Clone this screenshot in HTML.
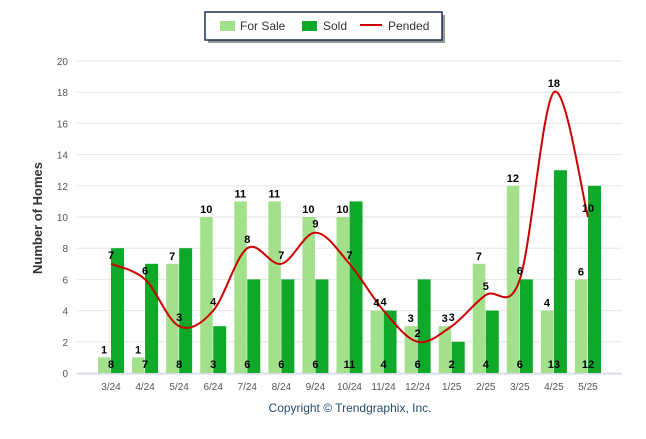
<!DOCTYPE html>
<html><head><meta charset="utf-8"><style>
body{margin:0;background:#fff;font-family:"Liberation Sans",Arial,sans-serif}
svg text{font-family:"Liberation Sans",Arial,sans-serif}
</style></head><body>
<svg id="chart" width="646" height="434" xmlns="http://www.w3.org/2000/svg">
<rect x="0" y="0" width="646" height="434" fill="#fff"/>
<g id="grid"></g><g id="bars"></g><g id="line"></g><g id="labels"></g>
<text transform="translate(42,218) rotate(-90)" text-anchor="middle" font-size="13" font-weight="bold" fill="#333">Number of Homes</text>
<text x="350" y="412" text-anchor="middle" font-size="12" fill="#274b6d">Copyright © Trendgraphix, Inc.</text>
<g>
<rect x="208" y="15" width="237" height="28" fill="#999"/>
<rect x="205" y="12" width="237" height="28" fill="#fff" stroke="#1d2d5a" stroke-width="1.5"/>
<rect x="220" y="21" width="15" height="10" fill="#a3e08b"/>
<text x="240" y="30" font-size="12" fill="#333">For Sale</text>
<rect x="302" y="21" width="15" height="10" fill="#0ea928"/>
<text x="323" y="30" font-size="12" fill="#333">Sold</text>
<line x1="360" y1="25" x2="382" y2="25" stroke="#cc0000" stroke-width="2"/>
<text x="388" y="30" font-size="12" fill="#333">Pended</text>
</g>
</svg>
<script>
const categories=["3/24","4/24","5/24","6/24","7/24","8/24","9/24","10/24","11/24","12/24","1/25","2/25","3/25","4/25","5/25"];
const forSale=[1,1,7,10,11,11,10,10,4,3,3,7,12,4,6];
const sold=[8,7,8,3,6,6,6,11,4,6,2,4,6,13,12];
const pended=[7,6,3,4,8,7,9,7,4,2,3,5,6,18,10];
const yTicks=[0,2,4,6,8,10,12,14,16,18,20];
const NS="http://www.w3.org/2000/svg";
const x0=94,step=34.07,plotL=77,plotR=622;
const xc=i=>x0+17+i*step;
const y=v=>373-v*15.6;
function mk(t,a,p){const e=document.createElementNS(NS,t);for(const k in a)e.setAttribute(k,a[k]);p.appendChild(e);return e;}
const grid=document.getElementById('grid'),bars=document.getElementById('bars'),line=document.getElementById('line'),labels=document.getElementById('labels');
yTicks.forEach(t=>{
 const l=mk('line',{x1:plotL,x2:plotR,y1:y(t),y2:y(t),stroke:'#e6e6e6','stroke-width':1},grid);
 
 
 const tx=mk('text',{x:68,y:y(t)+4,'text-anchor':'end','font-size':10,fill:'#555'},grid);
 tx.textContent=t;
 
 
});
mk('line',{x1:plotL,x2:plotR,y1:374,y2:374,stroke:'#ccd6eb'},grid);
categories.forEach((c,i)=>{
 const tx=mk('text',{x:xc(i),y:390,'text-anchor':'middle','font-size':10,fill:'#555'},grid);
 tx.textContent=c;
 
 
 const a=mk('rect',{x:xc(i)-13,y:y(forSale[i]),width:12.5,height:373-y(forSale[i]),fill:'#a3e08b'},bars);
 
 
 const b=mk('rect',{x:xc(i),y:y(sold[i]),width:13,height:373-y(sold[i]),fill:'#0ea928'},bars);
 
 
 const l1=mk('text',{x:xc(i)-7,y:y(forSale[i])-4,'text-anchor':'middle','font-size':11,'font-weight':'bold',fill:'#000'},labels);
 l1.textContent=forSale[i];
 
 
 const l2=mk('text',{x:xc(i),y:368,'text-anchor':'middle','font-size':11,'font-weight':'bold',fill:'#000'},labels);
 l2.textContent=sold[i];
 
 
 const l3=mk('text',{x:xc(i),y:y(pended[i])-5,'text-anchor':'middle','font-size':11,'font-weight':'bold',fill:'#000'},labels);
 l3.textContent=pended[i];
 
 
});
const pts=pended.map((v,i)=>[xc(i),y(v)]);
let d='M'+pts[0][0]+','+pts[0][1];
for(let i=0;i<pts.length-1;i++){
 const p0=pts[Math.max(i-1,0)],p1=pts[i],p2=pts[i+1],p3=pts[Math.min(i+2,pts.length-1)];
 const c1=[p1[0]+(p2[0]-p0[0])/6,p1[1]+(p2[1]-p0[1])/6],c2=[p2[0]-(p3[0]-p1[0])/6,p2[1]-(p3[1]-p1[1])/6];
 d+=' C'+c1+' '+c2+' '+p2;
}
const pl=mk('path',{d:d,fill:'none',stroke:'#cc0000','stroke-width':2},line);


</script>
</body></html>
